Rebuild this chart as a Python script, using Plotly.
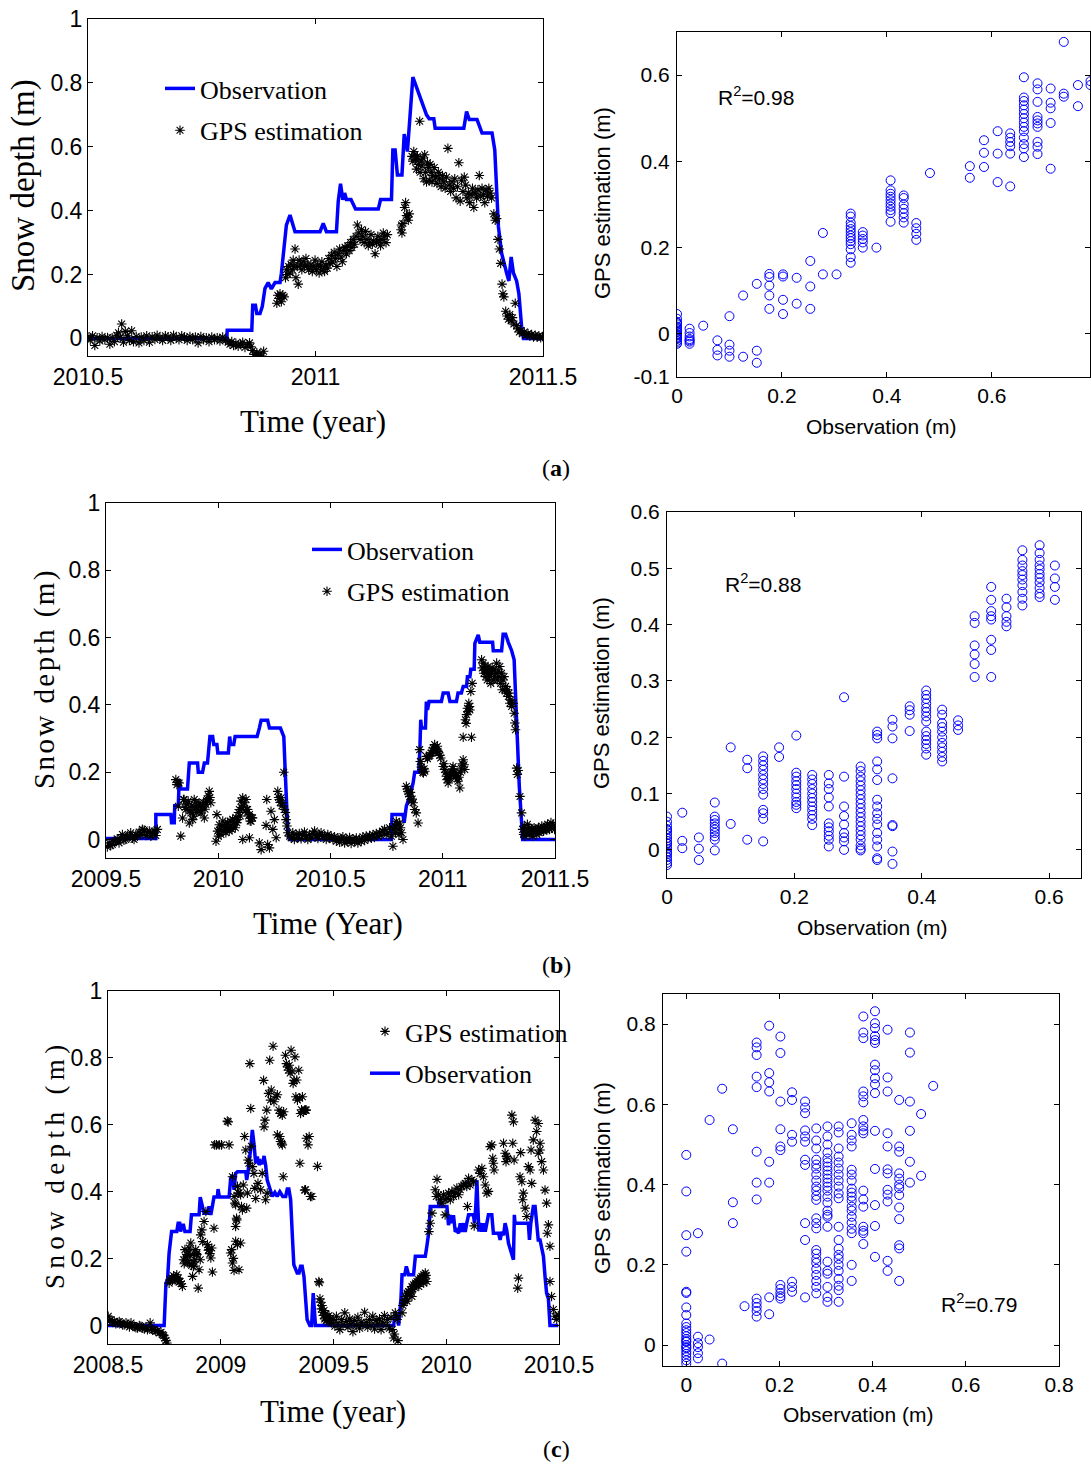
import plotly.graph_objects as go

W, H = 1091, 1466

# ---------------- DATA ----------------
# (a) time series: observation (year, depth m)
obs_a = [(2010.500,0.0),(2010.805,0.0),(2010.806,0.026),(2010.860,0.026),(2010.862,0.104),(2010.868,0.104),(2010.871,0.078),(2010.878,0.078),(2010.883,0.100),(2010.889,0.157),(2010.896,0.175),(2010.903,0.155),(2010.911,0.175),(2010.922,0.175),(2010.925,0.204),(2010.930,0.280),(2010.936,0.355),(2010.944,0.386),(2010.949,0.360),(2010.955,0.334),(2011.010,0.334),(2011.017,0.360),(2011.024,0.334),(2011.046,0.334),(2011.050,0.430),(2011.055,0.484),(2011.060,0.434),(2011.064,0.455),(2011.068,0.435),(2011.078,0.435),(2011.088,0.405),(2011.138,0.405),(2011.143,0.435),(2011.167,0.435),(2011.170,0.590),(2011.175,0.590),(2011.180,0.512),(2011.190,0.512),(2011.195,0.640),(2011.202,0.585),(2011.214,0.818),(2011.221,0.790),(2011.230,0.750),(2011.237,0.726),(2011.244,0.700),(2011.250,0.688),(2011.260,0.688),(2011.263,0.658),(2011.326,0.658),(2011.332,0.710),(2011.338,0.685),(2011.355,0.685),(2011.360,0.665),(2011.366,0.643),(2011.388,0.643),(2011.394,0.590),(2011.402,0.350),(2011.409,0.267),(2011.420,0.205),(2011.425,0.180),(2011.430,0.255),(2011.435,0.205),(2011.442,0.180),(2011.447,0.140),(2011.453,0.036),(2011.457,0.0),(2011.500,0.0)]

# (a) time series: GPS estimation (year, depth m)
gps_a = [(2010.500,0.005),(2010.505,-0.005),(2010.510,0.008),(2010.515,-0.022),(2010.520,0.002),(2010.526,-0.008),(2010.531,0.006),(2010.537,-0.004),(2010.543,0.003),(2010.548,-0.018),(2010.553,0.002),(2010.558,-0.010),(2010.563,0.010),(2010.567,0.018),(2010.571,0.003),(2010.574,0.045),(2010.578,-0.012),(2010.582,0.022),(2010.587,0.008),(2010.591,-0.006),(2010.596,0.024),(2010.600,-0.010),(2010.606,0.006),(2010.612,-0.014),(2010.617,0.004),(2010.623,-0.006),(2010.629,0.008),(2010.635,-0.012),(2010.641,0.005),(2010.647,-0.003),(2010.652,0.010),(2010.658,0.002),(2010.664,-0.006),(2010.670,0.008),(2010.676,0.004),(2010.682,-0.006),(2010.688,0.010),(2010.694,0.002),(2010.700,-0.004),(2010.706,0.008),(2010.712,0.004),(2010.718,-0.006),(2010.724,0.006),(2010.730,-0.004),(2010.736,0.004),(2010.742,-0.014),(2010.748,0.006),(2010.754,-0.004),(2010.760,0.002),(2010.766,-0.010),(2010.772,0.004),(2010.778,-0.004),(2010.784,0.002),(2010.790,-0.008),(2010.796,0.004),(2010.802,-0.006),
(2010.808,-0.012),(2010.812,-0.018),(2010.816,-0.010),(2010.820,-0.022),(2010.825,-0.015),(2010.830,-0.024),(2010.835,-0.018),(2010.840,-0.012),(2010.845,-0.028),(2010.850,-0.020),(2010.855,-0.014),(2010.858,-0.026),
(2010.862,-0.038),(2010.865,-0.050),(2010.868,-0.058),(2010.871,-0.045),(2010.874,-0.055),(2010.878,-0.048),(2010.882,-0.055),(2010.886,-0.040),
(2010.915,0.110),(2010.917,0.135),(2010.920,0.125),(2010.922,0.140),(2010.925,0.115),(2010.928,0.135),(2010.931,0.130),
(2010.934,0.190),(2010.936,0.215),(2010.939,0.200),(2010.941,0.225),(2010.944,0.205),(2010.946,0.232),(2010.949,0.215),(2010.951,0.245),(2010.953,0.225),(2010.955,0.280),(2010.957,0.190),(2010.960,0.225),(2010.962,0.170),(2010.964,0.245),(2010.967,0.230),(2010.970,0.215),(2010.973,0.240),(2010.976,0.225),(2010.979,0.250),(2010.982,0.230),(2010.985,0.215),
(2010.990,0.230),(2010.993,0.210),(2010.996,0.225),(2010.999,0.245),(2011.002,0.215),(2011.005,0.230),(2011.008,0.205),(2011.011,0.225),(2011.014,0.240),(2011.017,0.215),(2011.020,0.210),(2011.023,0.230),(2011.026,0.220),(2011.029,0.250),(2011.032,0.235),(2011.035,0.260),(2011.038,0.240),(2011.041,0.270),(2011.044,0.250),(2011.047,0.225),(2011.050,0.265),(2011.053,0.280),(2011.056,0.255),(2011.059,0.240),(2011.062,0.275),(2011.065,0.285),(2011.068,0.265),(2011.071,0.290),(2011.074,0.275),(2011.077,0.300),(2011.080,0.285),(2011.083,0.310),
(2011.086,0.295),(2011.089,0.320),(2011.092,0.355),(2011.095,0.330),(2011.098,0.310),(2011.101,0.340),(2011.104,0.320),(2011.107,0.300),(2011.110,0.335),(2011.113,0.310),(2011.116,0.290),(2011.119,0.300),(2011.122,0.325),(2011.125,0.295),(2011.128,0.305),(2011.131,0.265),(2011.134,0.300),(2011.137,0.320),(2011.140,0.305),(2011.143,0.290),(2011.146,0.310),(2011.149,0.330),(2011.152,0.320),(2011.155,0.300),(2011.158,0.325),
(2011.188,0.340),(2011.189,0.355),(2011.190,0.330),(2011.192,0.360),(2011.196,0.410),(2011.198,0.425),(2011.200,0.385),(2011.202,0.380),(2011.204,0.370),(2011.206,0.390),
(2011.212,0.570),(2011.214,0.555),(2011.216,0.585),(2011.218,0.575),(2011.220,0.560),(2011.222,0.530),(2011.224,0.570),(2011.226,0.545),(2011.229,0.680),(2011.230,0.520),(2011.232,0.555),(2011.234,0.540),(2011.236,0.565),(2011.238,0.500),(2011.240,0.575),(2011.242,0.520),(2011.244,0.490),(2011.246,0.550),(2011.248,0.535),(2011.250,0.495),(2011.252,0.545),(2011.254,0.520),(2011.256,0.490),(2011.258,0.510),
(2011.261,0.535),(2011.264,0.505),(2011.267,0.485),(2011.270,0.520),(2011.273,0.500),(2011.276,0.475),(2011.279,0.510),(2011.282,0.490),(2011.285,0.470),(2011.288,0.505),(2011.291,0.595),(2011.294,0.480),(2011.297,0.460),(2011.300,0.490),(2011.303,0.470),(2011.306,0.500),(2011.309,0.440),(2011.312,0.475),(2011.315,0.550),(2011.318,0.430),(2011.321,0.495),(2011.324,0.460),(2011.327,0.505),(2011.330,0.480),
(2011.333,0.440),(2011.336,0.455),(2011.339,0.425),(2011.342,0.450),(2011.345,0.470),(2011.348,0.410),(2011.351,0.455),(2011.354,0.440),(2011.357,0.465),(2011.360,0.510),(2011.363,0.445),(2011.366,0.470),(2011.369,0.450),(2011.372,0.425),(2011.375,0.465),(2011.378,0.445),(2011.381,0.470),(2011.384,0.455),(2011.387,0.440),
(2011.392,0.390),(2011.395,0.370),(2011.398,0.375),(2011.401,0.310),(2011.404,0.280),(2011.407,0.235),(2011.410,0.170),(2011.412,0.140),(2011.414,0.130),(2011.418,0.085),(2011.421,0.070),(2011.424,0.060),(2011.427,0.075),(2011.430,0.055),(2011.433,0.065),(2011.436,0.045),(2011.439,0.110),(2011.442,0.040),(2011.445,0.030),(2011.448,0.020),(2011.451,0.025),(2011.455,0.015),(2011.459,0.020),(2011.463,0.010),(2011.467,0.015),(2011.471,0.008),(2011.475,0.012),(2011.479,0.005),(2011.483,0.010),(2011.487,0.004),(2011.491,0.008),(2011.495,0.002),(2011.499,0.006)]

# (b) time series: observation
obs_b = [(2009.500,0.003),(2009.722,0.003),(2009.722,0.074),(2009.789,0.074),(2009.792,0.050),(2009.804,0.050),(2009.806,0.100),(2009.822,0.100),(2009.826,0.178),(2009.832,0.150),(2009.863,0.150),(2009.866,0.203),(2009.871,0.227),(2009.908,0.227),(2009.911,0.200),(2009.930,0.200),(2009.938,0.227),(2009.952,0.227),(2009.957,0.257),(2009.963,0.306),(2009.975,0.306),(2009.980,0.282),(2009.994,0.282),(2009.998,0.257),(2010.045,0.257),(2010.051,0.306),(2010.055,0.282),(2010.069,0.282),(2010.075,0.306),(2010.173,0.306),(2010.183,0.331),(2010.191,0.354),(2010.220,0.354),(2010.228,0.331),(2010.277,0.331),(2010.292,0.306),(2010.298,0.207),(2010.304,0.089),(2010.310,0.020),(2010.317,0.0),(2010.771,0.0),(2010.774,0.074),(2010.823,0.074),(2010.828,0.050),(2010.838,0.100),(2010.853,0.128),(2010.868,0.168),(2010.875,0.200),(2010.893,0.200),(2010.898,0.267),(2010.902,0.356),(2010.905,0.331),(2010.923,0.331),(2010.927,0.410),(2010.932,0.385),(2010.939,0.410),(2010.994,0.410),(2011.002,0.435),(2011.024,0.435),(2011.032,0.410),(2011.061,0.410),(2011.068,0.435),(2011.083,0.435),(2011.091,0.455),(2011.106,0.455),(2011.110,0.484),(2011.121,0.484),(2011.125,0.506),(2011.140,0.506),(2011.143,0.583),(2011.158,0.608),(2011.165,0.586),(2011.222,0.586),(2011.225,0.561),(2011.262,0.561),(2011.269,0.610),(2011.280,0.610),(2011.292,0.586),(2011.307,0.561),(2011.318,0.534),(2011.324,0.455),(2011.333,0.287),(2011.341,0.158),(2011.348,0.070),(2011.356,0.0),(2011.500,0.0)]

# (b) time series: GPS estimation
gps_b = [(2009.506,-0.022),(2009.514,-0.010),(2009.521,-0.018),(2009.528,-0.015),(2009.536,-0.005),(2009.543,-0.005),(2009.550,0.002),(2009.558,-0.010),(2009.566,0.005),(2009.573,0.015),(2009.580,-0.002),(2009.588,0.000),(2009.595,0.012),(2009.603,0.010),(2009.610,0.020),(2009.618,0.004),(2009.625,0.000),(2009.633,0.015),(2009.640,0.010),(2009.648,0.022),(2009.655,0.015),(2009.662,0.030),(2009.670,0.028),(2009.678,0.012),(2009.685,0.020),(2009.693,0.025),(2009.700,0.010),(2009.707,0.018),(2009.714,0.025),(2009.722,0.012),(2009.729,0.030),
(2009.811,0.178),(2009.816,0.163),(2009.820,0.170),(2009.822,0.099),(2009.826,0.168),(2009.833,0.010),
(2009.841,0.064),(2009.845,0.119),(2009.848,0.119),(2009.852,0.095),(2009.856,0.089),(2009.860,0.105),(2009.866,0.114),(2009.871,0.049),(2009.875,0.085),(2009.878,0.079),(2009.882,0.100),(2009.886,0.059),(2009.890,0.070),(2009.893,0.119),(2009.897,0.095),(2009.900,0.109),(2009.904,0.080),(2009.908,0.089),(2009.911,0.100),(2009.915,0.109),(2009.919,0.085),(2009.923,0.079),(2009.927,0.095),(2009.930,0.099),(2009.934,0.110),(2009.938,0.064),(2009.941,0.090),(2009.945,0.104),(2009.948,0.115),(2009.952,0.119),(2009.956,0.130),(2009.960,0.143),(2009.963,0.125),(2009.967,0.109),
(2009.990,-0.005),(2009.994,0.074),(2009.997,0.025),(2010.001,0.010),(2010.005,0.044),(2010.008,0.030),(2010.012,0.015),(2010.016,0.040),(2010.020,0.055),(2010.024,0.025),(2010.027,0.035),(2010.031,0.045),(2010.034,0.020),(2010.038,0.030),(2010.042,0.050),(2010.046,0.035),(2010.049,0.025),(2010.053,0.055),(2010.057,0.040),(2010.061,0.030),(2010.064,0.060),(2010.068,0.045),(2010.072,0.050),(2010.076,0.035),(2010.079,0.065),(2010.083,0.050),(2010.086,0.059),
(2010.090,0.080),(2010.094,0.089),(2010.098,0.070),(2010.101,0.114),(2010.105,0.095),(2010.109,0.124),(2010.112,0.100),(2010.116,0.109),(2010.120,0.085),(2010.124,0.119),(2010.127,0.090),(2010.131,0.089),(2010.135,0.070),(2010.139,0.074),(2010.142,0.055),(2010.146,0.054),(2010.150,0.065),(2010.153,0.064),(2010.109,0.0),(2010.139,0.005),
(2010.183,-0.010),(2010.191,-0.030),(2010.213,0.042),(2010.216,0.119),(2010.220,-0.015),(2010.228,-0.025),(2010.235,0.084),(2010.243,0.030),(2010.250,0.059),(2010.258,0.005),(2010.265,0.143),(2010.269,0.125),(2010.272,0.119),(2010.276,0.110),(2010.280,0.124),(2010.284,0.100),(2010.287,0.109),(2010.292,0.200),(2010.295,0.089),(2010.299,0.080),(2010.302,0.059),(2010.306,0.040),(2010.310,0.020),
(2010.318,0.010),(2010.325,0.005),(2010.332,0.020),(2010.339,0.000),(2010.347,0.015),(2010.354,0.005),(2010.361,0.018),(2010.369,0.002),(2010.376,0.012),(2010.384,0.022),(2010.391,0.008),(2010.399,0.000),(2010.406,0.015),(2010.414,0.005),(2010.421,0.018),(2010.429,0.025),(2010.436,0.010),(2010.444,0.003),(2010.451,0.015),(2010.458,0.020),(2010.466,0.008),(2010.473,0.012),(2010.481,0.000),(2010.488,0.015),(2010.496,0.005),(2010.503,0.010),
(2010.511,0.000),(2010.518,0.008),(2010.526,-0.005),(2010.533,0.005),(2010.541,-0.008),(2010.548,0.002),(2010.555,0.008),(2010.563,-0.010),(2010.570,0.000),(2010.577,-0.005),(2010.585,0.006),(2010.592,-0.012),(2010.600,0.002),(2010.607,-0.004),(2010.615,0.004),(2010.622,-0.010),(2010.629,0.000),(2010.637,-0.006),(2010.644,0.008),(2010.652,-0.003),(2010.659,0.010),(2010.667,0.002),(2010.674,0.012),(2010.682,0.004),(2010.689,0.015),(2010.696,0.006),(2010.704,0.018),(2010.711,0.010),(2010.718,0.020),(2010.726,0.012),(2010.733,0.025),(2010.741,0.030),(2010.748,0.015),(2010.756,0.020),(2010.763,0.035),(2010.771,0.010),(2010.778,-0.020),(2010.782,0.030),(2010.786,0.040),(2010.790,0.020),(2010.793,0.054),(2010.797,0.045),(2010.801,0.030),(2010.805,0.015),(2010.808,0.049),(2010.812,0.035),(2010.816,0.020),(2010.823,0.000),
(2010.838,0.158),(2010.842,0.150),(2010.845,0.143),(2010.849,0.135),(2010.853,0.128),(2010.856,0.140),(2010.860,0.114),(2010.864,0.120),(2010.868,0.109),(2010.875,0.089),(2010.882,0.079),(2010.890,0.049),
(2010.897,0.267),(2010.900,0.232),(2010.902,0.232),(2010.905,0.215),(2010.908,0.208),(2010.911,0.200),(2010.914,0.198),(2010.917,0.210),(2010.920,0.203),
(2010.927,0.247),(2010.932,0.240),(2010.938,0.247),(2010.943,0.250),(2010.949,0.257),(2010.953,0.265),(2010.957,0.272),(2010.960,0.260),(2010.964,0.282),(2010.968,0.270),(2010.972,0.265),(2010.976,0.277),(2010.979,0.262),(2010.982,0.257),(2010.987,0.250),(2010.991,0.242),
(2011.002,0.217),(2011.005,0.225),(2011.009,0.208),(2011.013,0.200),(2011.016,0.188),(2011.020,0.178),(2011.024,0.168),(2011.027,0.180),(2011.031,0.183),(2011.035,0.195),(2011.039,0.198),(2011.043,0.210),(2011.046,0.217),(2011.050,0.200),(2011.054,0.198),(2011.057,0.190),(2011.061,0.188),(2011.065,0.180),(2011.068,0.173),(2011.072,0.185),(2011.076,0.153),(2011.079,0.200),(2011.083,0.212),(2011.087,0.225),(2011.091,0.237),(2011.095,0.222),(2011.098,0.208),
(2011.091,0.304),(2011.128,0.304),
(2011.101,0.356),(2011.104,0.345),(2011.106,0.371),(2011.110,0.390),(2011.113,0.380),(2011.116,0.405),(2011.119,0.395),(2011.121,0.385),(2011.125,0.440),(2011.131,0.464),
(2011.173,0.534),(2011.176,0.510),(2011.180,0.524),(2011.183,0.494),(2011.186,0.504),(2011.188,0.514),(2011.192,0.484),(2011.195,0.500),(2011.198,0.474),(2011.202,0.514),(2011.205,0.494),(2011.208,0.484),(2011.210,0.504),(2011.214,0.464),(2011.217,0.494),(2011.220,0.510),(2011.225,0.474),(2011.228,0.504),(2011.232,0.484),(2011.235,0.494),(2011.240,0.524),(2011.243,0.474),(2011.247,0.500),(2011.250,0.484),(2011.254,0.514),(2011.258,0.464),(2011.262,0.494),(2011.265,0.445),(2011.269,0.474),(2011.273,0.484),(2011.277,0.445),(2011.280,0.455),(2011.284,0.435),(2011.288,0.445),(2011.292,0.425),(2011.295,0.435),(2011.299,0.405),(2011.303,0.415),(2011.307,0.395),
(2011.314,0.405),(2011.318,0.375),(2011.321,0.346),(2011.324,0.326),
(2011.329,0.212),(2011.332,0.193),(2011.336,0.205),(2011.344,0.128),(2011.351,0.079),
(2011.356,0.030),(2011.360,0.015),(2011.363,0.040),(2011.366,0.010),(2011.370,0.030),(2011.373,0.020),(2011.377,0.045),(2011.381,0.025),(2011.385,0.015),(2011.388,0.035),(2011.392,0.020),(2011.396,0.030),(2011.400,0.010),(2011.404,0.025),(2011.407,0.035),(2011.411,0.020),(2011.415,0.030),(2011.419,0.015),(2011.422,0.028),(2011.426,0.035),(2011.430,0.020),(2011.434,0.030),(2011.437,0.025),(2011.441,0.040),(2011.445,0.030),(2011.449,0.025),(2011.452,0.035),(2011.456,0.030),(2011.460,0.040),(2011.464,0.028),(2011.467,0.045),(2011.471,0.035),(2011.475,0.030),(2011.479,0.040),(2011.482,0.050),(2011.486,0.035),(2011.490,0.045),(2011.494,0.040),(2011.498,0.030)]

# (c) time series: observation
obs_c = [(2008.500,0.0),(2008.749,0.0),(2008.757,0.127),(2008.764,0.137),(2008.771,0.217),(2008.782,0.281),(2008.805,0.281),(2008.811,0.306),(2008.818,0.306),(2008.822,0.281),(2008.828,0.300),(2008.835,0.300),(2008.841,0.281),(2008.864,0.281),(2008.870,0.331),(2008.904,0.331),(2008.909,0.384),(2008.919,0.356),(2008.926,0.336),(2008.941,0.336),(2008.948,0.356),(2008.956,0.331),(2008.963,0.356),(2008.970,0.384),(2008.985,0.384),(2008.988,0.408),(2008.994,0.384),(2009.037,0.384),(2009.044,0.440),(2009.052,0.450),(2009.059,0.406),(2009.066,0.455),(2009.074,0.460),(2009.111,0.460),(2009.115,0.435),(2009.121,0.460),(2009.133,0.530),(2009.140,0.585),(2009.147,0.545),(2009.155,0.485),(2009.162,0.505),(2009.170,0.480),(2009.177,0.490),(2009.185,0.483),(2009.192,0.507),(2009.199,0.480),(2009.206,0.435),(2009.214,0.415),(2009.221,0.400),(2009.229,0.386),(2009.240,0.398),(2009.250,0.386),(2009.262,0.400),(2009.275,0.386),(2009.288,0.386),(2009.295,0.408),(2009.302,0.408),(2009.310,0.376),(2009.317,0.276),(2009.324,0.182),(2009.339,0.157),(2009.347,0.157),(2009.354,0.177),(2009.361,0.177),(2009.369,0.147),(2009.376,0.058),(2009.383,0.018),(2009.395,0.0),(2009.403,0.0),(2009.410,0.097),(2009.416,0.038),(2009.420,0.0),(2009.767,0.0),(2009.770,0.023),(2009.785,0.023),(2009.789,0.0),(2009.799,0.078),(2009.804,0.152),(2009.816,0.152),(2009.823,0.177),(2009.833,0.152),(2009.855,0.152),(2009.863,0.207),(2009.907,0.207),(2009.914,0.237),(2009.919,0.266),(2009.923,0.281),(2009.929,0.356),(2009.966,0.356),(2009.970,0.380),(2009.976,0.356),(2010.003,0.356),(2010.010,0.300),(2010.018,0.330),(2010.025,0.306),(2010.032,0.330),(2010.040,0.280),(2010.047,0.285),(2010.055,0.276),(2010.062,0.306),(2010.069,0.280),(2010.077,0.306),(2010.084,0.280),(2010.091,0.306),(2010.099,0.331),(2010.121,0.331),(2010.125,0.306),(2010.131,0.356),(2010.136,0.435),(2010.140,0.356),(2010.145,0.281),(2010.150,0.306),(2010.158,0.281),(2010.165,0.306),(2010.173,0.281),(2010.180,0.306),(2010.187,0.331),(2010.202,0.331),(2010.209,0.276),(2010.232,0.276),(2010.239,0.256),(2010.246,0.280),(2010.254,0.270),(2010.261,0.306),(2010.268,0.286),(2010.276,0.246),(2010.283,0.231),(2010.291,0.217),(2010.298,0.197),(2010.302,0.331),(2010.305,0.306),(2010.364,0.306),(2010.369,0.256),(2010.375,0.306),(2010.386,0.356),(2010.394,0.356),(2010.401,0.316),(2010.408,0.256),(2010.416,0.256),(2010.423,0.237),(2010.431,0.207),(2010.438,0.147),(2010.445,0.097),(2010.453,0.080),(2010.460,0.0),(2010.497,0.0)]

# (c) time series: GPS estimation
gps_c = [(2008.501,0.028),(2008.507,0.015),(2008.513,0.018),(2008.520,0.010),(2008.528,0.013),(2008.535,0.006),(2008.543,0.008),(2008.550,0.012),(2008.557,0.008),(2008.565,0.002),(2008.572,0.003),(2008.580,0.008),(2008.587,0.003),(2008.595,-0.004),(2008.602,0.008),(2008.610,0.000),(2008.617,-0.002),(2008.624,-0.006),(2008.631,-0.007),(2008.639,0.000),(2008.646,-0.002),(2008.654,-0.008),(2008.661,-0.010),(2008.668,-0.005),(2008.675,-0.012),(2008.687,0.008),(2008.693,-0.010),(2008.698,-0.014),(2008.705,-0.012),(2008.712,-0.017),(2008.720,-0.015),(2008.727,-0.022),(2008.735,-0.020),(2008.742,-0.027),(2008.747,-0.030),(2008.752,-0.037),(2008.757,-0.045),(2008.761,-0.052),
(2008.771,0.127),(2008.776,0.137),(2008.782,0.142),(2008.786,0.135),(2008.791,0.149),(2008.796,0.137),(2008.800,0.145),(2008.805,0.152),(2008.808,0.140),(2008.811,0.142),(2008.815,0.130),(2008.820,0.132),(2008.825,0.125),(2008.830,0.117),
(2008.835,0.197),(2008.838,0.185),(2008.841,0.227),(2008.845,0.205),(2008.850,0.212),(2008.853,0.195),(2008.855,0.187),(2008.858,0.220),(2008.860,0.232),(2008.864,0.210),(2008.867,0.247),(2008.871,0.180),(2008.875,0.147),(2008.879,0.177),(2008.882,0.190),(2008.885,0.197),(2008.889,0.227),(2008.892,0.215),(2008.894,0.212),(2008.900,0.112),(2008.904,0.167),(2008.909,0.197),(2008.911,0.271),(2008.916,0.286),(2008.920,0.251),(2008.926,0.311),(2008.934,0.341),(2008.941,0.242),(2008.945,0.225),(2008.948,0.227),(2008.952,0.215),(2008.956,0.202),(2008.960,0.232),(2008.963,0.160),(2008.970,0.291),
(2008.973,0.540),(2008.981,0.540),(2008.993,0.540),(2009.003,0.540),(2009.029,0.611),(2009.033,0.609),(2009.037,0.540),
(2009.044,0.217),(2009.048,0.227),(2009.052,0.187),(2009.056,0.201),(2009.059,0.165),(2009.066,0.296),(2009.071,0.316),(2009.074,0.242),(2009.081,0.167),(2009.088,0.247),(2009.066,0.252),
(2009.052,0.445),(2009.059,0.386),(2009.063,0.366),(2009.066,0.361),(2009.070,0.321),(2009.074,0.416),(2009.078,0.396),(2009.081,0.396),(2009.088,0.391),(2009.092,0.356),(2009.096,0.346),(2009.100,0.420),(2009.106,0.565),(2009.111,0.525),(2009.115,0.351),(2009.118,0.396),(2009.121,0.495),(2009.125,0.485),(2009.129,0.783),(2009.133,0.649),(2009.136,0.536),(2009.140,0.475),(2009.147,0.455),(2009.151,0.410),(2009.155,0.380),
(2009.165,0.425),(2009.177,0.406),(2009.184,0.455),(2009.190,0.733),(2009.192,0.594),(2009.199,0.376),(2009.206,0.396),(2009.196,0.614),(2009.204,0.644),(2009.212,0.694),(2009.217,0.793),(2009.221,0.674),(2009.224,0.704),(2009.232,0.835),(2009.236,0.669),(2009.245,0.684),(2009.251,0.690),(2009.258,0.644),(2009.262,0.565),(2009.265,0.634),(2009.267,0.634),(2009.270,0.545),(2009.273,0.629),(2009.251,0.570),(2009.265,0.550),(2009.273,0.540),(2009.277,0.445),(2009.279,0.639),
(2009.287,0.808),(2009.291,0.783),(2009.296,0.773),(2009.300,0.763),(2009.304,0.778),(2009.308,0.755),(2009.312,0.823),(2009.316,0.760),(2009.321,0.724),(2009.325,0.733),(2009.329,0.803),(2009.333,0.684),(2009.337,0.734),(2009.340,0.674),(2009.346,0.763),(2009.350,0.680),(2009.354,0.634),(2009.358,0.645),(2009.362,0.684),(2009.366,0.640),(2009.372,0.644),(2009.376,0.644),(2009.379,0.644),(2009.351,0.485),(2009.372,0.405),(2009.392,0.565),(2009.387,0.540),(2009.398,0.386),(2009.404,0.386),(2009.380,0.560),(2009.376,0.406),(2009.429,0.476),
(2009.435,0.132),(2009.437,0.128),
(2009.440,0.080),(2009.443,0.070),(2009.446,0.050),(2009.449,0.060),(2009.452,0.040),(2009.455,0.030),(2009.458,0.045),(2009.461,0.020),(2009.465,0.035),(2009.468,0.015),(2009.472,0.025),(2009.476,0.010),(2009.480,0.030),(2009.484,0.015),(2009.487,0.022),
(2009.492,0.008),(2009.499,0.018),(2009.506,-0.002),(2009.513,0.028),(2009.520,0.008),(2009.528,-0.012),(2009.535,0.018),(2009.542,0.002),(2009.550,0.038),(2009.557,0.012),(2009.564,-0.005),(2009.572,0.020),(2009.579,0.005),(2009.586,-0.018),(2009.594,0.015),(2009.601,0.000),(2009.608,0.025),(2009.616,-0.008),(2009.623,0.010),(2009.630,0.002),(2009.638,0.040),(2009.645,0.010),(2009.652,-0.005),(2009.660,0.018),(2009.667,0.002),(2009.674,0.028),(2009.682,-0.010),(2009.689,0.015),(2009.696,0.005),(2009.704,0.020),(2009.711,-0.012),(2009.718,0.010),(2009.726,0.030),(2009.733,0.002),(2009.740,0.018),(2009.748,-0.008),(2009.755,0.025),(2009.760,-0.012),(2009.767,-0.037),(2009.770,-0.025),(2009.774,0.038),(2009.778,0.030),(2009.782,0.018),(2009.786,-0.045),
(2009.804,0.038),(2009.808,0.060),(2009.811,0.068),(2009.815,0.075),(2009.819,0.087),(2009.822,0.080),(2009.826,0.097),(2009.826,0.073),(2009.830,0.090),(2009.833,0.102),(2009.837,0.095),(2009.841,0.107),(2009.845,0.100),(2009.848,0.117),(2009.848,0.087),(2009.852,0.110),(2009.855,0.122),(2009.859,0.115),(2009.863,0.127),(2009.866,0.120),(2009.870,0.132),(2009.874,0.125),(2009.878,0.137),(2009.878,0.117),(2009.882,0.130),(2009.885,0.142),(2009.889,0.135),(2009.892,0.147),(2009.896,0.140),(2009.900,0.152),(2009.900,0.127),(2009.904,0.145),(2009.907,0.157),(2009.910,0.150),(2009.914,0.132),
(2009.923,0.281),(2009.929,0.306),(2009.937,0.336),(2009.951,0.406),(2009.956,0.386),(2009.959,0.437),(2009.966,0.391),(2009.973,0.376),
(2009.981,0.366),(2009.988,0.391),(2009.995,0.376),(2009.995,0.331),(2010.003,0.381),(2010.010,0.396),(2010.018,0.376),(2010.025,0.401),(2010.032,0.386),(2010.040,0.396),(2010.047,0.411),(2010.055,0.391),(2010.062,0.406),(2010.069,0.416),(2010.077,0.420),(2010.084,0.425),(2010.091,0.416),(2010.094,0.356),(2010.099,0.440),(2010.106,0.420),(2010.114,0.435),(2010.121,0.430),(2010.124,0.298),
(2010.143,0.465),(2010.150,0.455),(2010.158,0.470),(2010.165,0.445),(2010.173,0.420),(2010.180,0.396),(2010.187,0.401),(2010.195,0.535),(2010.202,0.540),(2010.206,0.500),(2010.209,0.485),(2010.212,0.465),
(2010.254,0.545),(2010.261,0.515),(2010.265,0.490),(2010.268,0.505),(2010.272,0.500),(2010.291,0.629),(2010.298,0.609),(2010.295,0.545),(2010.301,0.495),(2010.330,0.517),(2010.317,0.112),(2010.320,0.142),
(2010.327,0.445),(2010.335,0.430),(2010.342,0.396),(2010.339,0.376),(2010.350,0.351),(2010.357,0.326),(2010.364,0.475),(2010.372,0.465),(2010.379,0.425),(2010.376,0.525),(2010.386,0.555),(2010.394,0.614),(2010.401,0.580),(2010.408,0.604),(2010.416,0.545),(2010.416,0.525),(2010.423,0.490),(2010.431,0.465),(2010.408,0.515),
(2010.438,0.405),(2010.445,0.366),(2010.453,0.301),(2010.448,0.276),(2010.460,0.237),(2010.460,0.132),(2010.467,0.087),(2010.475,0.048),(2010.482,0.028),(2010.490,0.018),(2010.497,0.030)]

# Scatter panels: (observation value, [GPS estimates at that observation])
sc_a = [(0.0,[0.046,0.035,0.028,0.022,0.017,0.012,0.008,0.004,0.0,-0.004,-0.008,-0.012,-0.016,-0.020,-0.023,0.025,0.015,0.005,-0.002,-0.010]),
(0.024,[0.012,0.002,-0.006,-0.012,-0.018,-0.023,-0.015]),(0.05,[0.019]),(0.077,[-0.015,-0.037,-0.05]),
(0.1,[0.041,-0.025,-0.039,-0.053]),(0.126,[0.089,-0.053]),(0.152,[0.116,-0.039,-0.067]),
(0.176,[0.139,0.132,0.112,0.089,0.058]),(0.202,[0.138,0.133,0.079,0.046]),(0.228,[0.13,0.07]),
(0.254,[0.169,0.11,0.058]),(0.278,[0.234,0.138]),(0.304,[0.138]),
(0.331,[0.279,0.272,0.258,0.25,0.243,0.236,0.228,0.222,0.215,0.208,0.196,0.178,0.165]),
(0.354,[0.236,0.228,0.22,0.212,0.2]),(0.38,[0.2]),
(0.407,[0.356,0.333,0.325,0.318,0.31,0.302,0.295,0.287,0.28,0.26]),
(0.432,[0.321,0.315,0.3,0.29,0.28,0.27,0.258]),(0.456,[0.257,0.245,0.232,0.218]),(0.482,[0.373]),
(0.558,[0.389,0.362]),(0.585,[0.449,0.42,0.387]),(0.611,[0.47,0.418,0.352]),
(0.635,[0.465,0.455,0.445,0.435,0.418,0.342]),
(0.661,[0.595,0.548,0.54,0.53,0.52,0.51,0.5,0.49,0.48,0.47,0.455,0.44,0.43,0.41]),
(0.687,[0.581,0.567,0.538,0.503,0.495,0.488,0.48,0.445,0.434,0.417]),
(0.712,[0.569,0.536,0.523,0.489,0.383]),(0.737,[0.677,0.557,0.55]),(0.764,[0.577,0.528]),(0.788,[0.586,0.577])]

sc_b = [(0.0,[0.059,0.05,0.043,0.037,0.031,0.026,0.021,0.016,0.011,0.006,0.002,-0.003,-0.008,-0.013,-0.018,-0.023,-0.027,0.035,0.012,-0.005]),
(0.024,[0.066,0.016,0.003]),(0.05,[0.022,0.002,-0.018]),
(0.075,[0.084,0.059,0.053,0.047,0.041,0.036,0.03,0.024,0.018,-0.001]),
(0.1,[0.182,0.046]),(0.126,[0.16,0.145,0.018]),
(0.151,[0.166,0.158,0.15,0.142,0.133,0.125,0.117,0.108,0.098,0.071,0.065,0.055,0.015]),
(0.176,[0.182,0.165]),
(0.203,[0.203,0.137,0.13,0.122,0.115,0.108,0.1,0.093,0.085,0.08,0.074]),
(0.228,[0.133,0.125,0.117,0.108,0.1,0.092,0.085,0.077,0.07,0.062,0.055,0.044]),
(0.254,[0.133,0.118,0.108,0.093,0.077,0.047,0.04,0.033,0.025,0.018,0.006]),
(0.278,[0.271,0.13,0.077,0.06,0.045,0.03,0.022,0.015,0.0]),
(0.304,[0.148,0.14,0.13,0.122,0.114,0.106,0.098,0.09,0.082,0.074,0.066,0.058,0.05,0.042,0.034,0.026,0.018,0.008,0.002,-0.001]),
(0.33,[0.21,0.204,0.198,0.157,0.143,0.124,0.089,0.077,0.065,0.055,0.045,0.03,0.018,0.006,-0.015,-0.018]),
(0.354,[0.231,0.219,0.198,0.127,0.044,0.042,-0.003,-0.025]),
(0.381,[0.255,0.248,0.24,0.211]),
(0.407,[0.283,0.275,0.268,0.26,0.252,0.245,0.237,0.228,0.21,0.202,0.195,0.188,0.18,0.169]),
(0.432,[0.249,0.24,0.225,0.218,0.21,0.2,0.19,0.182,0.174,0.165,0.157]),
(0.457,[0.23,0.221,0.213]),
(0.483,[0.415,0.403,0.363,0.347,0.33,0.307]),
(0.509,[0.467,0.444,0.424,0.415,0.409,0.373,0.355,0.307]),
(0.533,[0.446,0.431,0.415,0.405,0.397]),
(0.558,[0.532,0.515,0.505,0.495,0.488,0.48,0.47,0.458,0.446,0.434]),
(0.585,[0.541,0.527,0.515,0.505,0.498,0.49,0.483,0.475,0.465,0.455,0.449]),
(0.609,[0.505,0.482,0.467,0.444])]

sc_c = [(0.0,[0.054,0.045,0.037,0.03,0.022,0.015,0.008,0.0,-0.008,-0.015,-0.022,-0.03,-0.038,-0.046,0.075,0.094,0.13,0.133,0.233,0.274,0.383,0.474,0.01,-0.005]),
(0.025,[0.279,0.021,0.005,-0.005,-0.02,-0.033]),(0.05,[0.561,0.014]),(0.077,[0.639,-0.046]),
(0.1,[0.538,0.356,0.304]),(0.125,[0.097]),
(0.151,[0.754,0.742,0.723,0.669,0.643,0.482,0.405,0.363,0.116,0.105,0.095,0.085,0.071]),
(0.178,[0.796,0.678,0.655,0.632,0.457,0.405,0.119,0.077]),
(0.202,[0.769,0.728,0.607,0.538,0.495,0.486,0.15,0.14,0.13,0.122,0.116]),
(0.227,[0.63,0.611,0.524,0.507,0.158,0.145,0.133]),
(0.255,[0.607,0.592,0.578,0.535,0.52,0.507,0.462,0.449,0.304,0.262,0.119]),
(0.279,[0.54,0.51,0.49,0.462,0.45,0.44,0.425,0.41,0.395,0.385,0.372,0.362,0.316,0.304,0.291,0.237,0.228,0.215,0.205,0.19,0.175,0.16,0.145,0.129]),
(0.303,[0.545,0.52,0.5,0.48,0.465,0.455,0.445,0.435,0.425,0.415,0.405,0.395,0.385,0.37,0.355,0.335,0.325,0.32,0.295,0.208,0.185,0.178,0.145,0.12,0.108]),
(0.327,[0.545,0.53,0.49,0.47,0.455,0.44,0.425,0.41,0.395,0.378,0.366,0.295,0.262,0.24,0.225,0.215,0.2,0.185,0.165,0.148,0.137,0.108]),
(0.355,[0.553,0.524,0.51,0.495,0.437,0.425,0.41,0.39,0.38,0.37,0.36,0.345,0.335,0.32,0.305,0.29,0.279,0.2,0.16]),
(0.38,[0.819,0.779,0.765,0.632,0.62,0.605,0.561,0.545,0.535,0.528,0.385,0.363,0.345,0.295,0.285,0.279,0.252]),
(0.405,[0.832,0.802,0.79,0.77,0.76,0.753,0.699,0.685,0.665,0.65,0.628,0.534,0.439,0.349,0.297,0.22]),
(0.432,[0.786,0.667,0.632,0.528,0.495,0.438,0.428,0.387,0.375,0.358,0.21,0.185]),
(0.457,[0.611,0.495,0.482,0.428,0.415,0.4,0.391,0.374,0.343,0.314,0.249,0.241,0.16]),
(0.48,[0.779,0.729,0.607,0.534,0.457,0.405]),(0.504,[0.576,0.422]),(0.53,[0.646])]

r2_text = ["R<sup>2</sup>=0.98", "R<sup>2</sup>=0.88", "R<sup>2</sup>=0.79"]
captions = ["a", "b", "c"]

# ---------------- LAYOUT HELPERS ----------------
def xd(x0, x1):
    return [x0 / W, x1 / W]

def yd(y0, y1):
    return [1 - y1 / H, 1 - y0 / H]

def px(x):
    return x / W

def py(y):
    return 1 - y / H

SERIF = "Liberation Serif, Times New Roman, serif"
SANS = "Liberation Sans, Arial, sans-serif"

def axis(dom, rng, tickvals, ticktext, font, standoff, anchor):
    return dict(domain=dom, range=rng, tickmode="array", tickvals=tickvals, ticktext=ticktext,
                ticks="inside", ticklen=5, tickwidth=1, tickcolor="black",
                showline=True, linecolor="black", linewidth=1, mirror="allticks",
                showgrid=False, zeroline=False, tickfont=font, anchor=anchor,
                ticklabelstandoff=standoff, fixedrange=True, automargin=False)

tf_left = dict(family=SANS, size=23, color="black")
tf_right = dict(family=SANS, size=21, color="black")

def unzip(pairs):
    return [p[0] for p in pairs], [p[1] for p in pairs]

def flatten(groups):
    xs, ys = [], []
    for o, gs in groups:
        for g in gs:
            xs.append(o)
            ys.append(g)
    return xs, ys

fig = go.Figure()

star = dict(symbol="asterisk-open", size=8, color="black", line=dict(width=1.1, color="black"))
circ = dict(symbol="circle-open", size=9, color="blue", line=dict(width=1, color="blue"))

# legend ranks: (a),(b) Observation first; (c) GPS estimation first
ranks = [(1, 2), (1, 2), (2, 1)]
ts = [(obs_a, gps_a, "legend"), (obs_b, gps_b, "legend2"), (obs_c, gps_c, "legend3")]
for i, (ob, gp, lg) in enumerate(ts):
    xa = "x" if i == 0 else "x%d" % (2 * i + 1)
    ya = "y" if i == 0 else "y%d" % (2 * i + 1)
    ox, oy = unzip(ob)
    gx, gy = unzip(gp)
    fig.add_trace(go.Scatter(x=ox, y=oy, mode="lines", name="Observation",
                             line=dict(color="#0000FF", width=3.5), xaxis=xa, yaxis=ya,
                             legend=lg, legendgroup="o%d" % i, legendrank=ranks[i][0]))
    fig.add_trace(go.Scatter(x=gx, y=gy, mode="markers", name="GPS estimation",
                             marker=star, xaxis=xa, yaxis=ya, legend=lg, legendgroup="g%d" % i,
                             legendrank=ranks[i][1]))

for i, sc in enumerate([sc_a, sc_b, sc_c]):
    xa = "x%d" % (2 * i + 2)
    ya = "y%d" % (2 * i + 2)
    sx, sy = flatten(sc)
    fig.add_trace(go.Scatter(x=sx, y=sy, mode="markers", marker=circ, xaxis=xa, yaxis=ya,
                             showlegend=False))

lay = {}
# left panels
lay["xaxis"] = axis(xd(88, 543), [2010.5, 2011.5], [2010.5, 2011, 2011.5], ["2010.5", "2011", "2011.5"], tf_left, 0, "y")
lay["yaxis"] = axis(yd(19, 356), [-0.055, 1.0], [0, 0.2, 0.4, 0.6, 0.8, 1], ["0", "0.2", "0.4", "0.6", "0.8", "1"], tf_left, 0, "x")
lay["xaxis3"] = axis(xd(106, 555), [2009.5, 2011.5], [2009.5, 2010, 2010.5, 2011, 2011.5], ["2009.5", "2010", "2010.5", "2011", "2011.5"], tf_left, 0, "y3")
lay["yaxis3"] = axis(yd(503, 858), [-0.055, 1.0], [0, 0.2, 0.4, 0.6, 0.8, 1], ["0", "0.2", "0.4", "0.6", "0.8", "1"], tf_left, 0, "x3")
lay["xaxis5"] = axis(xd(108, 559), [2008.5, 2010.5], [2008.5, 2009, 2009.5, 2010, 2010.5], ["2008.5", "2009", "2009.5", "2010", "2010.5"], tf_left, 0, "y5")
lay["yaxis5"] = axis(yd(991, 1344), [-0.055, 1.0], [0, 0.2, 0.4, 0.6, 0.8, 1], ["0", "0.2", "0.4", "0.6", "0.8", "1"], tf_left, 0, "x5")
# right panels
lay["xaxis2"] = axis(xd(677, 1090), [0, 0.787], [0, 0.2, 0.4, 0.6], ["0", "0.2", "0.4", "0.6"], tf_right, 0, "y2")
lay["yaxis2"] = axis(yd(32, 377), [-0.1, 0.7], [-0.1, 0, 0.2, 0.4, 0.6], ["-0.1", "0", "0.2", "0.4", "0.6"], tf_right, 2, "x2")
lay["xaxis4"] = axis(xd(667, 1081), [0, 0.65], [0, 0.2, 0.4, 0.6], ["0", "0.2", "0.4", "0.6"], tf_right, 0, "y4")
lay["yaxis4"] = axis(yd(512, 878), [-0.05, 0.6], [0, 0.1, 0.2, 0.3, 0.4, 0.5, 0.6], ["0", "0.1", "0.2", "0.3", "0.4", "0.5", "0.6"], tf_right, 2, "x4")
lay["xaxis6"] = axis(xd(663, 1059), [-0.05, 0.8], [0, 0.2, 0.4, 0.6, 0.8], ["0", "0.2", "0.4", "0.6", "0.8"], tf_right, 0, "y6")
lay["yaxis6"] = axis(yd(994, 1366), [-0.052, 0.875], [0, 0.2, 0.4, 0.6, 0.8], ["0", "0.2", "0.4", "0.6", "0.8"], tf_right, 2, "x6")

leg_font = dict(family=SERIF, size=26, color="black")
def legend(x, y):
    return dict(x=px(x), y=py(y), xanchor="left", yanchor="top", font=leg_font,
                bgcolor="rgba(0,0,0,0)", borderwidth=0, traceorder="grouped", tracegroupgap=5)

lay["legend"] = legend(160, 65)
lay["legend2"] = legend(307, 526)
lay["legend3"] = legend(365, 1008)

ann = []
def text(x, y, s, size, family, angle=0, xanchor="center"):
    ann.append(dict(x=px(x), y=py(y), xref="paper", yref="paper", text=s, showarrow=False,
                    textangle=angle, xanchor=xanchor, yanchor="middle",
                    font=dict(family=family, size=size, color="black")))

hs = "\u200a"
sp = "\u2009"
text(24, 186, "Snow depth (m)", 33, SERIF, -90)
text(44, 680, hs.join("Snow depth (m)"), 29, SERIF, -90)
text(55, 1167, sp.join("Snow depth (m)"), 27, SERIF, -90)
text(313, 421, "Time (year)", 31, SERIF)
text(328, 923, "Time (Year)", 31, SERIF)
text(333, 1411, "Time (year)", 31, SERIF)
for (cx, cy) in [(602, 203), (602, 693), (602, 1178)]:
    text(cx, cy, "GPS estimation (m)", 22, SANS, -90)
for (cx, cy) in [(881, 427), (872, 927), (858, 1414)]:
    text(cx, cy, "Observation (m)", 21, SANS)
for (lx, ly), s in zip([(716, 96), (723, 583), (939, 1303)], r2_text):
    text(lx, ly, s, 21, SANS, 0, "left")
for cy, c in zip([468, 965, 1449], captions):
    text(556, cy, "(<b>%s</b>)" % c, 24, SERIF)

fig.update_layout(width=W, height=H, margin=dict(l=0, r=0, t=0, b=0, autoexpand=False),
                  paper_bgcolor="white", plot_bgcolor="white", annotations=ann,
                  showlegend=True, **lay)

fig.write_html("out.html")
